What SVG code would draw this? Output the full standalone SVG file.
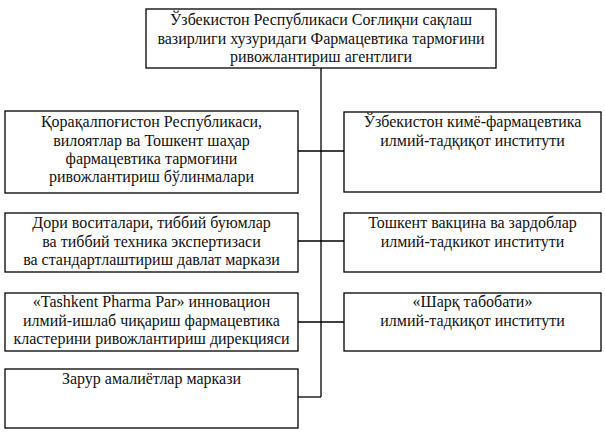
<svg xmlns="http://www.w3.org/2000/svg" width="605" height="433" viewBox="0 0 605 433">
<defs>
<style>
.box{fill:#fff;stroke:#000;stroke-width:1.3}
.c{fill:none;stroke:#000;stroke-width:1.3}
</style>
</defs>
<rect width="605" height="433" fill="#fff"/>
<g id="connectors">
<path class="c" d="M321,68 V397"/>
<path class="c" d="M298,151 H344"/>
<path class="c" d="M298,241 H344"/>
<path class="c" d="M298,322 H344"/>
<path class="c" d="M298,397 H321"/>
</g>
<g id="n0">
<rect class="box" x="146" y="9" width="350" height="59"/>
<text font-family="Liberation Serif" font-size="16" fill="#111" text-anchor="middle" x="321" y="25">Ўзбекистон Республикаси Соғлиқни сақлаш</text>
<text font-family="Liberation Serif" font-size="16" fill="#111" text-anchor="middle" x="321" y="44">вазирлиги хузуридаги Фармацевтика тармоғини</text>
<text font-family="Liberation Serif" font-size="16" fill="#111" text-anchor="middle" x="321" y="62">ривожлантириш агентлиги</text>
</g>
<g id="n1">
<rect class="box" x="5" y="111" width="293" height="82"/>
<text font-family="Liberation Serif" font-size="16" fill="#111" text-anchor="middle" x="151.5" y="127">Қорақалпоғистон Республикаси,</text>
<text font-family="Liberation Serif" font-size="16" fill="#111" text-anchor="middle" x="151.5" y="146">вилоятлар ва Тошкент шаҳар</text>
<text font-family="Liberation Serif" font-size="16" fill="#111" text-anchor="middle" x="151.5" y="164">фармацевтика тармоғини</text>
<text font-family="Liberation Serif" font-size="16" fill="#111" text-anchor="middle" x="151.5" y="182">ривожлантириш бўлинмалари</text>
</g>
<g id="n2">
<rect class="box" x="5" y="213" width="293" height="59"/>
<text font-family="Liberation Serif" font-size="16" fill="#111" text-anchor="middle" x="151.5" y="228">Дори воситалари, тиббий буюмлар</text>
<text font-family="Liberation Serif" font-size="16" fill="#111" text-anchor="middle" x="151.5" y="247">ва тиббий техника экспертизаси</text>
<text font-family="Liberation Serif" font-size="16" fill="#111" text-anchor="middle" x="151.5" y="265">ва стандартлаштириш давлат маркази</text>
</g>
<g id="n3">
<rect class="box" x="5" y="293" width="293" height="58"/>
<text font-family="Liberation Serif" font-size="16" fill="#111" text-anchor="middle" x="151.5" y="307">«Tashkent Pharma Par» инновацион</text>
<text font-family="Liberation Serif" font-size="16" fill="#111" text-anchor="middle" x="151.5" y="326">илмий-ишлаб чиқариш фармацевтика</text>
<text font-family="Liberation Serif" font-size="16" fill="#111" text-anchor="middle" x="151.5" y="344">кластерини ривожлантириш дирекцияси</text>
</g>
<g id="n4">
<rect class="box" x="5" y="369" width="293" height="59"/>
<text font-family="Liberation Serif" font-size="16" fill="#111" text-anchor="middle" x="151.5" y="384">Зарур амалиётлар маркази</text>
</g>
<g id="n5">
<rect class="box" x="344" y="112" width="257" height="80"/>
<text font-family="Liberation Serif" font-size="16" fill="#111" text-anchor="middle" x="472.5" y="127">Ўзбекистон кимё-фармацевтика</text>
<text font-family="Liberation Serif" font-size="16" fill="#111" text-anchor="middle" x="472.5" y="146">илмий-тадқиқот институти</text>
</g>
<g id="n6">
<rect class="box" x="344" y="213" width="257" height="59"/>
<text font-family="Liberation Serif" font-size="16" fill="#111" text-anchor="middle" x="472.5" y="228">Тошкент вакцина ва зардоблар</text>
<text font-family="Liberation Serif" font-size="16" fill="#111" text-anchor="middle" x="472.5" y="247">илмий-тадкикот институти</text>
</g>
<g id="n7">
<rect class="box" x="344" y="293" width="257" height="58"/>
<text font-family="Liberation Serif" font-size="16" fill="#111" text-anchor="middle" x="472.5" y="307">«Шарқ табобати»</text>
<text font-family="Liberation Serif" font-size="16" fill="#111" text-anchor="middle" x="472.5" y="326">илмий-тадкиқот институти</text>
</g>
</svg>
